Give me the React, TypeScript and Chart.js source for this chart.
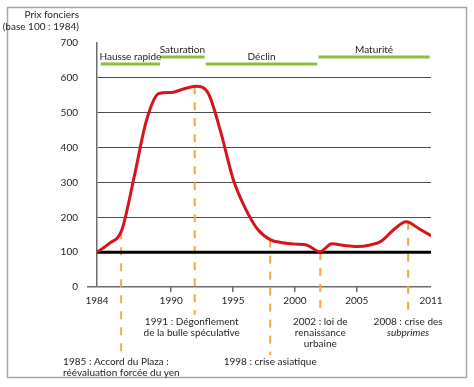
import React, { useEffect, useRef } from "react";
import { Chart, registerables } from "chart.js";

Chart.register(...registerables);

// ---- data ----
const years = [1984, 1985, 1986, 1987, 1988, 1989, 1990, 1991, 1992, 1993, 1994, 1995, 1996, 1997,
  1998, 1999, 2000, 2001, 2002, 2003, 2004, 2005, 2006, 2007, 2008, 2009, 2010, 2011];
const prices = [100, 125, 163, 315, 478, 555, 558, 568, 576, 555, 445, 310, 225, 165,
  136, 127, 123, 120, 101, 124, 119, 116, 120, 132, 165, 187, 168, 147];

const xTickYears = [1984, 1990, 1995, 2000, 2005, 2011];
const yMin = 0;
const yMax = 700;
const yStep = 100;
const baseValue = 100;

const phaseNames = ["Hausse rapide", "Saturation", "Déclin", "Maturité"];
const phaseStart = [1984.3, 1989.1, 1992.8, 2001.9];
const phaseEnd = [1989.1, 1992.7, 2001.8, 2010.9];
const phaseLevel = [640, 660, 640, 660];

const eventYears = [1985.95, 1991.9, 1998.0, 2002.05, 2009.15];
const eventTops = [160, 576, 136, 101, 187];
const eventEnds = [-195, -80, -195, -80, -80];
const eventLabels = [
  ["1985 : Accord du Plaza :", "réévaluation forcée du yen"],
  ["1991 : Dégonflement", "de la bulle spéculative"],
  ["1998 : crise asiatique"],
  ["2002 : loi de", "renaissance", "urbaine"],
  ["2008 : crise des", "_subprimes_"],
];

const yTitle = ["Prix fonciers", "(base 100 : 1984)"];

// ---- styles ----
const FONT = "Lato";
const FS = 10;
const RED = "#d4151d";
const GREEN = "#8dbd3e";
const ORANGE = "#f2a93a";
const TEXT = "#1e1e1e";

export default function App() {
  const ref = useRef<HTMLCanvasElement | null>(null);

  useEffect(() => {
    if (!ref.current) return;

    const datasets: any[] = [];
    datasets.push({
      data: years.map((x, i) => ({ x, y: prices[i] })),
      borderColor: RED,
      borderWidth: 3,
      pointRadius: 0,
      cubicInterpolationMode: "monotone",
      fill: false,
    });
    datasets.push({
      data: [{ x: years[0], y: baseValue }, { x: years[years.length - 1], y: baseValue }],
      borderColor: "#000",
      borderWidth: 3,
      pointRadius: 0,
    });
    eventYears.forEach((ey, i) => {
      datasets.push({
        data: [{ x: ey, y: eventTops[i] }, { x: ey, y: eventEnds[i] }],
        borderColor: ORANGE,
        borderWidth: 2,
        borderDash: [8, 8],
        pointRadius: 0,
        clip: false,
      });
    });
    phaseNames.forEach((_, i) => {
      datasets.push({
        data: [{ x: phaseStart[i], y: phaseLevel[i] }, { x: phaseEnd[i], y: phaseLevel[i] }],
        borderColor: GREEN,
        borderWidth: 3,
        pointRadius: 0,
      });
    });

    const textPlugin = {
      id: "texts",
      afterDraw(chart: any) {
        const ctx = chart.ctx;
        const xs = chart.scales.x;
        const ys = chart.scales.y;
        ctx.save();
        // outer frame
        ctx.strokeStyle = "#a6a6a6";
        ctx.lineWidth = 1.5;
        ctx.strokeRect(7.5, 7.5, 459, 370);

        ctx.fillStyle = TEXT;
        ctx.textBaseline = "middle";
        ctx.font = `${FS}px ${FONT}`;
        // y title
        ctx.textAlign = "right";
        ctx.fillText(yTitle[0], 79, 15);
        ctx.fillText(yTitle[1], 79, 27);

        // phase labels
        ctx.textAlign = "center";
        phaseNames.forEach((name, i) => {
          const cx = (xs.getPixelForValue(phaseStart[i]) + xs.getPixelForValue(phaseEnd[i])) / 2;
          const cy = ys.getPixelForValue(phaseLevel[i]) - 7;
          ctx.fillText(name, cx, cy);
        });

        // event labels
        eventLabels.forEach((lines, i) => {
          const ex = xs.getPixelForValue(eventYears[i]);
          const endY = ys.getPixelForValue(eventEnds[i]);
          let tx = ex;
          if (i === 0) {
            ctx.textAlign = "left";
            tx = ex - 58;
          } else {
            ctx.textAlign = "center";
            if (i === 1) tx = ex - 3;
          }
          lines.forEach((ln, k) => {
            let t = ln;
            if (t.startsWith("_") && t.endsWith("_")) {
              t = t.slice(1, -1);
              ctx.font = `italic ${FS}px ${FONT}`;
            } else {
              ctx.font = `${FS}px ${FONT}`;
            }
            ctx.fillText(t, tx, endY + 7 + k * 11);
          });
        });
        ctx.restore();
      },
    };

    const chart = new Chart(ref.current, {
      type: "line",
      data: { datasets },
      options: {
        animation: false,
        responsive: false,
        events: [],
        layout: { padding: { top: 43, right: 43, left: 0, bottom: 0 } },
        plugins: { legend: { display: false }, tooltip: { enabled: false } },
        scales: {
          x: {
            type: "linear",
            min: years[0],
            max: years[years.length - 1],
            afterBuildTicks: (s: any) => {
              s.ticks = xTickYears.map((v) => ({ value: v }));
            },
            afterFit: (s: any) => {
              s.height = 100;
            },
            ticks: {
              callback: (v: any) => String(v),
              autoSkip: false,
              maxRotation: 0,
              padding: 3,
              color: TEXT,
              font: { family: FONT, size: FS },
            },
            grid: {
              drawOnChartArea: false,
              drawTicks: true,
              tickLength: 5,
              lineWidth: 1.5,
              color: (c: any) =>
                c.tick && (c.tick.value === xTickYears[0] || c.tick.value === xTickYears[xTickYears.length - 1])
                  ? "rgba(0,0,0,0)"
                  : "#6b6b6b",
            },
            border: { display: false },
          },
          y: {
            type: "linear",
            min: yMin,
            max: yMax,
            afterFit: (s: any) => {
              s.width = 97;
            },
            ticks: {
              stepSize: yStep,
              padding: 9,
              color: TEXT,
              font: { family: FONT, size: FS },
            },
            grid: {
              drawTicks: true,
              tickLength: 10,
              color: (c: any) => {
                const v = c.tick ? c.tick.value : null;
                if (v === yMax || v === baseValue) return "rgba(0,0,0,0)";
                if (v === yMin) return "#6b6b6b";
                return "#4d4d4d";
              },
              tickColor: (c: any) => (c.tick && c.tick.value === yMin ? "#6b6b6b" : "rgba(0,0,0,0)"),
              lineWidth: (c: any) => (c.tick && c.tick.value === yMin ? 1.5 : 1),
            },
            border: { display: true, color: "#6b6b6b", width: 1.5 },
          },
        },
      },
      plugins: [textPlugin],
    } as any);

    return () => chart.destroy();
  }, []);

  return (
    <div style={{ position: "absolute", left: 0, top: 0, width: 474, height: 387, background: "#fff" }}>
      <canvas ref={ref} width={474} height={387} />
    </div>
  );
}
